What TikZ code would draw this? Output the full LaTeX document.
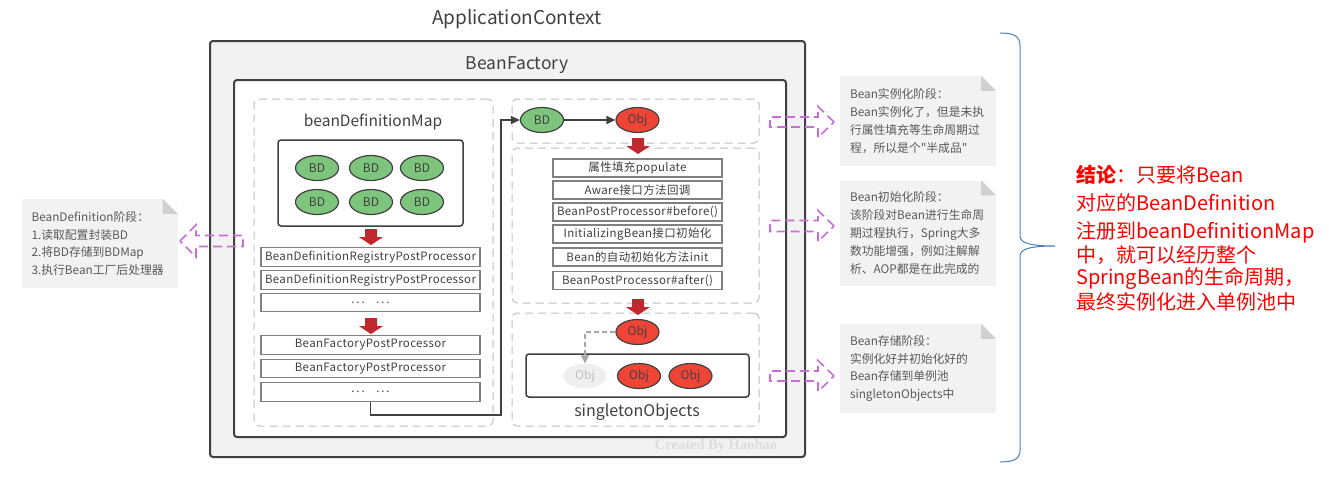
\documentclass[tikz,border=0pt]{standalone}
\usepackage{fontspec}
\setmainfont{Noto Sans CJK SC}[Ligatures=TeXOff]
\newfontfamily\wmfont{Liberation Serif}
\newfontfamily\stepfont[LetterSpace=3]{Noto Sans CJK SC}
\usetikzlibrary{arrows.meta,shapes.geometric}
\definecolor{panel}{HTML}{F2F2F2}
\definecolor{darkline}{HTML}{404040}
\definecolor{dashgray}{HTML}{BFBFBF}
\definecolor{stepgray}{HTML}{808080}
\definecolor{textgray}{HTML}{404040}
\definecolor{notetext}{HTML}{595959}
\definecolor{foldgray}{HTML}{D0D0D0}
\definecolor{bdgreen}{HTML}{7DC57D}
\definecolor{objred}{HTML}{F04437}
\definecolor{arrowred}{HTML}{C0282D}
\definecolor{violet}{HTML}{C86DD7}
\definecolor{braceblue}{HTML}{4A7EBB}
\definecolor{conclred}{HTML}{FF0000}
\definecolor{wmgray}{HTML}{DCDCDC}
\definecolor{ghostfill}{HTML}{EFEFEF}
\definecolor{ghosttext}{HTML}{BFBFBF}
\definecolor{ghostline}{HTML}{A6A6A6}
\newcommand\fsz[1]{\fontsize{#1}{#1}\selectfont}
\tikzset{
  appbox/.style={draw=darkline, line width=2pt, fill=panel, rounded corners=3pt},
  factorybox/.style={draw=darkline, line width=2pt, fill=white, rounded corners=3pt},
  dashbox/.style={draw=dashgray, line width=1pt, dash pattern=on 8pt off 5pt, rounded corners=5pt},
  mapbox/.style={draw=darkline, line width=1.5pt, fill=white, rounded corners=3pt},
  stepbox/.style={draw=stepgray, line width=1.2pt, fill=white, text=textgray, inner sep=0pt, font=\stepfont\fsz{11.5}},
  title/.style={text=textgray, inner sep=0pt},
  bd/.style={ellipse, draw=darkline, line width=1.2pt, fill=bdgreen, text=textgray, minimum width=43pt, minimum height=25pt, inner sep=0pt, font=\fsz{12}},
  obj/.style={ellipse, draw=darkline, line width=1.2pt, fill=objred, text=textgray, minimum width=43pt, minimum height=25pt, inner sep=0pt, font=\fsz{12}},
  ghost/.style={ellipse, fill=ghostfill, text=ghosttext, minimum width=43pt, minimum height=25pt, inner sep=0pt, font=\fsz{12}},
  note/.style={fill=panel, text=notetext, align=left, text width=136pt, inner xsep=10pt, inner ysep=0pt, font=\fontsize{11.8}{17.8}\selectfont},
  conn/.style={draw=darkline, line width=1.4pt, -{Triangle[length=9pt,width=8pt]}},
  ghostconn/.style={draw=ghostline, line width=1.2pt, dash pattern=on 5pt off 3pt, -{Triangle[length=8pt,width=8pt]}},
  purplearrow/.style={draw=violet, line width=1.6pt, dash pattern=on 9pt off 5pt},
  redarrow/.style={fill=arrowred},
  concl/.style={text=conclred, anchor=west, inner sep=0pt, font=\fsz{20}},
}
\newcommand\fold[1]{%
  \fill[white] (#1.north east) -- ([xshift=-15pt]#1.north east) -- ([yshift=-15pt]#1.north east) -- cycle;
  \fill[foldgray] ([xshift=-15pt]#1.north east) -- ([xshift=-15pt,yshift=-15pt]#1.north east) -- ([yshift=-15pt]#1.north east) -- cycle;}
\newcommand\redarr[2]{%
  \fill[redarrow, shift={(#1,#2)}] (-6,0) -- (6,0) -- (6,8) -- (12,8) -- (0,16) -- (-12,8) -- (-6,8) -- cycle;}
\begin{document}
\begin{tikzpicture}[x=1pt,y=-1pt]
\useasboundingbox (0,0) rectangle (1329,496);
% containers
\node[appbox, minimum width=595pt, minimum height=416pt] (app) at (507.5,249) {};
\node[title, font=\fsz{19}] (apptitle) at (517,19) {ApplicationContext};
\node[title, font=\fsz{17.5}] (factitle) at (517,65) {BeanFactory};
\node[factorybox, minimum width=552pt, minimum height=357pt] (factory) at (510,258.5) {};
% left dashed area
\node[dashbox, minimum width=239pt, minimum height=327pt] (leftarea) at (373.5,262.5) {};
\node[title, font=\fsz{15.5}] (maptitle) at (373,122) {beanDefinitionMap};
\node[mapbox, minimum width=185pt, minimum height=86pt] (mapbox) at (370.5,183) {};
\node[bd] (m1) at (317,168) {BD};
\node[bd] (m2) at (371,168) {BD};
\node[bd] (m3) at (422,168) {BD};
\node[bd] (m4) at (317,202) {BD};
\node[bd] (m5) at (371,202) {BD};
\node[bd] (m6) at (422,202) {BD};
\redarr{371}{229}
\node[stepbox, minimum width=219pt, minimum height=18.5pt] (l1) at (370.5,257) {BeanDefinitionRegistryPostProcessor};
\node[stepbox, minimum width=219pt, minimum height=18.5pt] (l2) at (370.5,280) {BeanDefinitionRegistryPostProcessor};
\node[stepbox, minimum width=219pt, minimum height=18.5pt] (l3) at (370.5,302.5) {.\,.\,.\quad .\,.\,.};
\redarr{371}{318}
\node[stepbox, minimum width=219pt, minimum height=18.5pt] (l4) at (370.5,345) {BeanFactoryPostProcessor};
\node[stepbox, minimum width=219pt, minimum height=18.5pt] (l5) at (370.5,368.5) {BeanFactoryPostProcessor};
\node[stepbox, minimum width=219pt, minimum height=18.5pt] (l6) at (370.5,392) {.\,.\,.\quad .\,.\,.};
% right dashed areas
\node[dashbox, minimum width=247pt, minimum height=44pt] (areaA) at (635.5,121) {};
\node[dashbox, minimum width=247pt, minimum height=155pt] (areaB) at (635.5,225.5) {};
\node[dashbox, minimum width=247pt, minimum height=113pt] (areaC) at (635.5,369.5) {};
\node[bd] (bdA) at (542,120) {BD};
\node[obj] (objA) at (637.5,120) {Obj};
\redarr{638}{138}
\node[stepbox, minimum width=169pt, minimum height=18pt] (r1) at (637.5,168) {属性填充populate};
\node[stepbox, minimum width=169pt, minimum height=18pt] (r2) at (637.5,190) {Aware接口方法回调};
\node[stepbox, minimum width=169pt, minimum height=18pt] (r3) at (637.5,212) {BeanPostProcessor\#before()};
\node[stepbox, minimum width=169pt, minimum height=18pt] (r4) at (637.5,234) {InitializingBean接口初始化};
\node[stepbox, minimum width=169pt, minimum height=18pt] (r5) at (637.5,257) {Bean的自动初始化方法init};
\node[stepbox, minimum width=169pt, minimum height=18pt] (r6) at (637.5,280.5) {BeanPostProcessor\#after()};
\redarr{638}{299}
\node[obj] (objB) at (637.5,332) {Obj};
\node[mapbox, minimum width=223pt, minimum height=43pt] (singbox) at (637.5,375.5) {};
\node[ghost] (ghostobj) at (585,376) {Obj};
\node[obj] (objC) at (639,376) {Obj};
\node[obj] (objD) at (690.5,376) {Obj};
\node[title, font=\fsz{16}] (singtitle) at (637,412) {singletonObjects};
\node[text=wmgray, inner sep=0pt, font=\wmfont\bfseries\fsz{14.5}] (wm) at (716,446.5) {Created By Haohao};
% connectors
\coordinate (bend) at (501,415);
\draw[conn] (l6.south) |- (bend) |- (bdA.west);
\draw[conn] (bdA.east) -- (objA.west);
\draw[ghostconn] (objB.west) -| (ghostobj.north);
% notes
\node[note, minimum height=89pt] (leftnote) at (99.5,243.5) {BeanDefinition阶段：\\1.读取配置封装BD\\2.将BD存储到BDMap\\3.执行Bean工厂后处理器};
\fold{leftnote}
\node[note, minimum height=90pt] (note1) at (918,121) {Bean实例化阶段：\\Bean实例化了，但是未执\\行属性填充等生命周期过\\程，所以是个"半成品"};
\fold{note1}
\node[note, minimum height=105pt] (note2) at (918,233) {Bean初始化阶段：\\该阶段对Bean进行生命周\\期过程执行，Spring大多\\数功能增强，例如注解解\\析、AOP都是在此完成的};
\fold{note2}
\node[note, minimum height=89pt] (note3) at (918,368.5) {Bean存储阶段：\\实例化好并初始化好的\\Bean存储到单例池\\singletonObjects中};
\fold{note3}
% purple hollow arrows
\draw[purplearrow, shift={(180,241)}] (0,0) -- (16,-16) -- (16,-5.5) -- (63,-5.5) -- (63,5.5) -- (16,5.5) -- (16,16) -- cycle;
\draw[purplearrow, shift={(834,122)}] (0,0) -- (-16,-15.5) -- (-16,-5) -- (-64,-5) -- (-64,5) -- (-16,5) -- (-16,15.5) -- cycle;
\draw[purplearrow, shift={(834,226)}] (0,0) -- (-16,-15.5) -- (-16,-5.5) -- (-64,-5.5) -- (-64,5.5) -- (-16,5.5) -- (-16,15.5) -- cycle;
\draw[purplearrow, shift={(834,376)}] (0,0) -- (-16,-15.5) -- (-16,-5) -- (-64,-5) -- (-64,5) -- (-16,5) -- (-16,15.5) -- cycle;
% brace
\draw[braceblue, line width=1pt] (1000,33) .. controls (1014,33) and (1020,36) .. (1020,46) -- (1020,236) .. controls (1020,243) and (1030,246) .. (1055,246) .. controls (1030,246) and (1020,249) .. (1020,256) -- (1020,450) .. controls (1020,459) and (1014,462) .. (1000,462);
% conclusion
\node[concl] (c1) at (1076,175) {\textbf{结论}：只要将Bean};
\node[concl] (c2) at (1076,203) {对应的BeanDefinition};
\node[concl] (c3) at (1076,232) {注册到beanDefinitionMap};
\node[concl] (c4) at (1076,255) {中，就可以经历整个};
\node[concl] (c5) at (1076,278) {SpringBean的生命周期，};
\node[concl] (c6) at (1076,302) {最终实例化进入单例池中};
\end{tikzpicture}
\end{document}
